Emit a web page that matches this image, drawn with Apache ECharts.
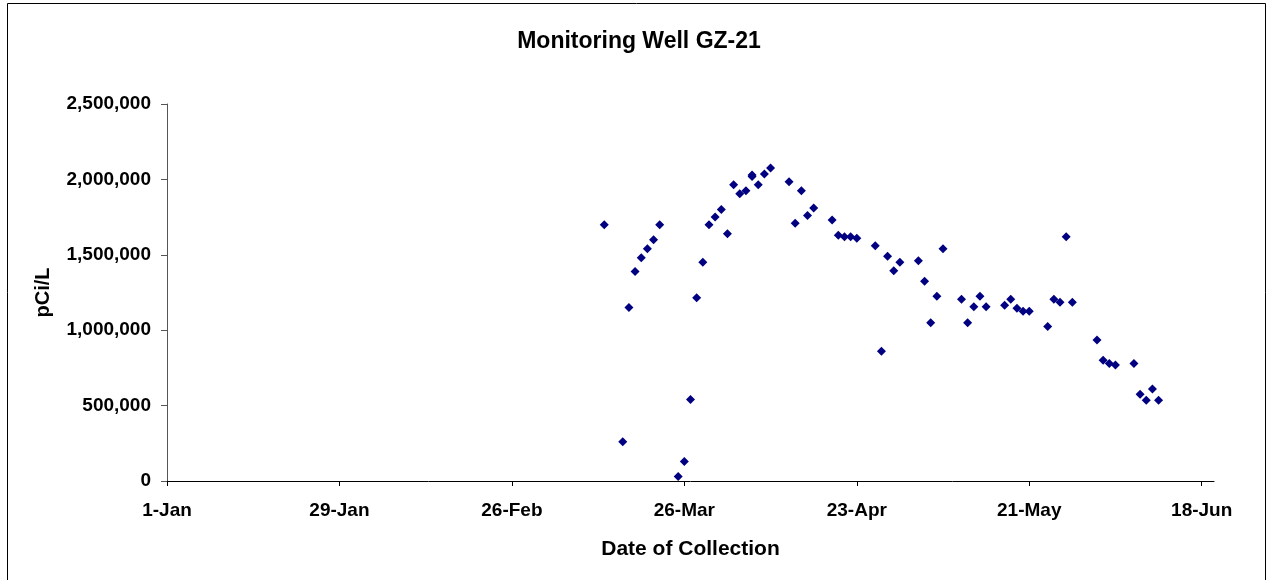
<!DOCTYPE html>
<html>
<head>
<meta charset="utf-8">
<title>Monitoring Well GZ-21</title>
<script src="https://cdn.jsdelivr.net/npm/echarts@6/dist/echarts.min.js"></script>
<style>
    html, body { margin: 0; padding: 0; background: #fff; }
    #chart { width: 1275px; height: 580px; }
</style>
</head>
<body>
<div id="chart"></div>
<script>
// days since 1-Jan for each sample
var collectionDay = [
    71, 74, 75, 76, 77, 78, 79, 80, 83, 84, 85, 86, 87, 88, 89, 90, 91, 92, 93, 94,
    95, 95, 96, 97, 98, 101, 102, 103, 104, 105, 108, 109, 110, 111, 112, 115, 116, 117, 118, 119,
    122, 123, 124, 125, 126, 129, 130, 131, 132, 133, 136, 137, 138, 139, 140, 143, 144, 145, 146, 147,
    151, 152, 153, 154, 157, 158, 159, 160, 161
];
// pCi/L
var activity = [
    1700000, 260000, 1150000, 1390000, 1480000, 1540000, 1600000, 1700000, 30000, 130000,
    540000, 1215000, 1450000, 1700000, 1750000, 1800000, 1640000, 1965000, 1905000, 1925000,
    2030000, 2020000, 1965000, 2035000, 2075000, 1985000, 1710000, 1925000, 1760000, 1810000,
    1730000, 1630000, 1620000, 1620000, 1610000, 1560000, 860000, 1490000, 1395000, 1450000,
    1460000, 1325000, 1050000, 1225000, 1540000, 1205000, 1050000, 1155000, 1225000, 1155000,
    1165000, 1205000, 1145000, 1125000, 1125000, 1025000, 1205000, 1185000, 1620000, 1185000,
    935000, 800000, 780000, 770000, 780000, 575000, 535000, 610000, 535000
];
// x tick positions (days since 1-Jan) and their labels
var xTickDays = [0, 28, 56, 84, 112, 140, 168];
var xTickLabels = ['1-Jan', '29-Jan', '26-Feb', '26-Mar', '23-Apr', '21-May', '18-Jun'];

var font = "'Liberation Sans', Arial, sans-serif";

var points = [];
for (var i = 0; i < collectionDay.length; i++) {
    points.push([collectionDay[i], activity[i]]);
}

var chart = echarts.init(document.getElementById('chart'), null, { renderer: 'canvas' });

var option = {
    backgroundColor: '#ffffff',
    animation: false,
    title: {
        text: 'Monitoring Well GZ-21',
        left: 634,
        top: 25,
        textAlign: 'center',
        textStyle: { fontFamily: font, fontSize: 23, fontWeight: 'bold', color: '#000' }
    },
    graphic: [{
        type: 'rect',
        shape: { x: 7.5, y: 3.5, width: 1258, height: 590 },
        style: { fill: null, stroke: '#000', lineWidth: 1 },
        silent: true
    }],
    grid: { left: 167, right: 61, top: 104, bottom: 99 },
    xAxis: {
        type: 'value',
        min: 0,
        max: 170,
        interval: 28,
        name: 'Date of Collection',
        nameLocation: 'middle',
        nameGap: 58,
        nameTextStyle: { fontFamily: font, fontSize: 21, fontWeight: 'bold', color: '#000' },
        axisLine: { show: true, onZero: false, lineStyle: { color: '#000', width: 1 } },
        axisTick: { show: true, inside: false, length: 5, customValues: xTickDays, lineStyle: { color: '#000' } },
        axisLabel: {
            customValues: xTickDays,
            margin: 20,
            fontFamily: font, fontSize: 19, fontWeight: 'bold', color: '#000',
            formatter: function (v) {
                var k = xTickDays.indexOf(v);
                return k >= 0 ? xTickLabels[k] : '';
            }
        },
        splitLine: { show: false }
    },
    yAxis: {
        type: 'value',
        min: 0,
        max: 2500000,
        interval: 500000,
        name: 'pCi/L',
        nameLocation: 'middle',
        nameGap: 114,
        nameRotate: 90,
        nameTextStyle: { fontFamily: font, fontSize: 20, fontWeight: 'bold', color: '#000' },
        axisLine: { show: true, lineStyle: { color: '#555', width: 1 } },
        axisTick: { show: true, inside: false, length: 6, lineStyle: { color: '#555' } },
        axisLabel: {
            margin: 16,
            fontFamily: font, fontSize: 19, fontWeight: 'bold', color: '#000',
            formatter: function (v) { return v.toLocaleString('en-US'); }
        },
        splitLine: { show: false }
    },
    series: [{
        type: 'scatter',
        data: points,
        symbol: 'diamond',
        symbolSize: 9,
        itemStyle: { color: '#000080', opacity: 1 }
    }]
};

chart.setOption(option);
</script>
</body>
</html>
